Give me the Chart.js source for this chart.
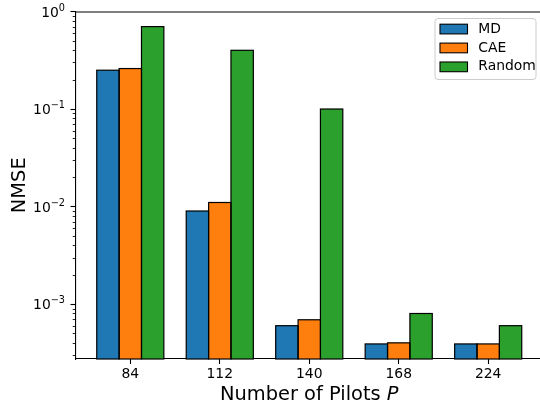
<!DOCTYPE html>
<html>
<head>
<meta charset="utf-8">
<script src="https://cdn.jsdelivr.net/npm/chart.js@4/dist/chart.umd.min.js"></script>
<style>
html,body{margin:0;padding:0;overflow:hidden;background:#fff;}
canvas{display:block;}
</style>
</head>
<body>
<canvas id="c" width="550" height="410"></canvas>
<script>
const pilots = ['84', '112', '140', '168', '224'];
const mdValues = [0.25, 0.009, 0.0006, 0.00039, 0.00039];
const caeValues = [0.26, 0.011, 0.00069, 0.0004, 0.00039];
const randomValues = [0.7, 0.4, 0.1, 0.0008, 0.0006];
const yTickValues = [0.001, 0.01, 0.1, 1];
const yTickBase = '10';
const yTickExponents = ['\u22123', '\u22122', '\u22121', '0'];
const seriesNames = ['MD', 'CAE', 'Random'];
const seriesColors = ['#1f77b4', '#ff7f0e', '#2ca02c'];

const FONT = "'DejaVu Sans', sans-serif";

function toPoints(arr) { return arr.map((v, i) => ({ x: i, y: v })); }

const edgePlugin = {
  id: 'edges',
  afterDatasetsDraw(chart) {
    const ctx = chart.ctx, a = chart.chartArea;
    ctx.save();
    ctx.beginPath();
    ctx.rect(a.left, a.top - 2, a.right - a.left, a.bottom - a.top + 4);
    ctx.clip();
    ctx.strokeStyle = '#000';
    ctx.lineWidth = 1.2;
    chart.data.datasets.forEach((ds, di) => {
      chart.getDatasetMeta(di).data.forEach(el => {
        const p = el.getProps(['x', 'y', 'base', 'width'], true);
        ctx.strokeRect(p.x - p.width / 2, p.y, p.width, p.base - p.y);
      });
    });
    ctx.restore();
  }
};

const framePlugin = {
  id: 'frame',
  afterDraw(chart) {
    const ctx = chart.ctx, a = chart.chartArea, ys = chart.scales.y;
    ctx.save();
    ctx.strokeStyle = '#000';
    ctx.lineWidth = 1.1;
    ctx.beginPath();
    ctx.moveTo(a.left, a.top + 0.5);
    ctx.lineTo(a.right, a.top + 0.5);
    ctx.lineTo(a.right, a.bottom);
    ctx.stroke();
    // minor ticks on log axis
    ctx.lineWidth = 0.85;
    for (let d = -5; d <= 0; d++) {
      for (let m = 2; m <= 9; m++) {
        const v = m * Math.pow(10, d);
        if (v < ys.min || v > ys.max) continue;
        const py = Math.round(ys.getPixelForValue(v)) + 0.5;
        ctx.beginPath();
        ctx.moveTo(a.left - 2.8, py);
        ctx.lineTo(a.left, py);
        ctx.stroke();
      }
    }
    // y tick labels 10^k with real superscripts
    ctx.fillStyle = '#000';
    ctx.textBaseline = 'alphabetic';
    ctx.textAlign = 'left';
    yTickValues.forEach((v, i) => {
      const ty = ys.getPixelForValue(v);
      ctx.font = "13.9px " + FONT;
      const wb = ctx.measureText(yTickBase).width;
      ctx.font = "9.7px " + FONT;
      const we = ctx.measureText(yTickExponents[i]).width;
      const right = a.left - 10.5;
      const sx = right - wb - we;
      ctx.font = "13.9px " + FONT;
      ctx.fillText(yTickBase, sx, ty + 5);
      ctx.font = "9.7px " + FONT;
      ctx.fillText(yTickExponents[i], sx + wb, ty - 0.7);
    });
    // x title with italic P
    const t1 = 'Number of Pilots ', t2 = 'P';
    ctx.font = "19.4px " + FONT;
    const w1 = ctx.measureText(t1).width;
    ctx.font = "italic 19.4px " + FONT;
    const w2 = ctx.measureText(t2).width;
    const cx = (a.left + a.right) / 2;
    let sx = cx - (w1 + w2) / 2;
    ctx.font = "19.4px " + FONT;
    ctx.fillText(t1, sx, 400);
    ctx.font = "italic 19.4px " + FONT;
    ctx.fillText(t2, sx + w1, 400);

    // legend (upper right)
    const fs = 13.9;
    const boxR = a.right - 7, boxT = a.top + 7;
    const boxW = 101, boxH = 61;
    const boxL = boxR - boxW;
    ctx.beginPath();
    const r = 3;
    ctx.moveTo(boxL + r, boxT);
    ctx.lineTo(boxR - r, boxT);
    ctx.arcTo(boxR, boxT, boxR, boxT + r, r);
    ctx.lineTo(boxR, boxT + boxH - r);
    ctx.arcTo(boxR, boxT + boxH, boxR - r, boxT + boxH, r);
    ctx.lineTo(boxL + r, boxT + boxH);
    ctx.arcTo(boxL, boxT + boxH, boxL, boxT + boxH - r, r);
    ctx.lineTo(boxL, boxT + r);
    ctx.arcTo(boxL, boxT, boxL + r, boxT, r);
    ctx.closePath();
    ctx.fillStyle = 'rgba(255,255,255,0.8)';
    ctx.fill();
    ctx.strokeStyle = '#cccccc';
    ctx.lineWidth = 1;
    ctx.stroke();
    ctx.font = fs + "px " + FONT;
    ctx.textBaseline = 'middle';
    chart.data.datasets.forEach((ds, i) => {
      const cy = boxT + 10.5 + i * 18.9;
      const px = boxL + 5;
      ctx.fillStyle = ds.backgroundColor;
      ctx.fillRect(px, cy - 4.8, 27.5, 9.7);
      ctx.strokeStyle = '#000';
      ctx.lineWidth = 1.1;
      ctx.strokeRect(px, cy - 4.8, 27.5, 9.7);
      ctx.fillStyle = '#000';
      ctx.fillText(ds.label, px + 27.8 + 10.5, cy);
    });
    ctx.restore();
  }
};

const datasets = [mdValues, caeValues, randomValues].map((vals, i) => ({
  label: seriesNames[i],
  data: toPoints(vals),
  backgroundColor: seriesColors[i],
  borderColor: '#000',
  borderWidth: 0,
  inflateAmount: 0,
  categoryPercentage: 0.75,
  barPercentage: 1.0
}));

new Chart(document.getElementById('c'), {
  type: 'bar',
  data: { datasets },
  options: {
    responsive: false,
    animation: false,
    devicePixelRatio: 1,
    layout: { padding: { top: 11.5, right: 7, left: 0, bottom: 0 } },
    plugins: { legend: { display: false }, tooltip: { enabled: false } },
    scales: {
      x: {
        type: 'linear',
        min: -0.6125,
        max: 4.6125,
        offset: false,
        afterBuildTicks(scale) { scale.ticks = pilots.map((p, i) => ({ value: i })); },
        afterFit(scale) { scale.height = 51; },
        ticks: {
          callback: (v) => pilots[v],
          font: { family: FONT, size: 13.9 },
          color: '#000',
          padding: 2,
          maxRotation: 0,
          autoSkip: false
        },
        grid: { offset: false, drawOnChartArea: false, drawTicks: true, tickLength: 5, color: '#000', tickWidth: 1.1 },
        border: { display: true, color: '#000', width: 1.1 }
      },
      y: {
        type: 'logarithmic',
        min: Math.pow(10, -3.5635),
        max: 1,
        afterBuildTicks(scale) { scale.ticks = yTickValues.map(v => ({ value: v })); },
        afterFit(scale) { scale.width = 75.5; },
        ticks: {
          display: false,
          autoSkip: false
        },
        grid: { offset: false, drawOnChartArea: false, drawTicks: true, tickLength: 5, color: '#000', tickWidth: 1.1 },
        border: { display: true, color: '#000', width: 1.1 },
        title: {
          display: true,
          text: 'NMSE',
          font: { family: FONT, size: 19.4 },
          color: '#000',
          padding: { top: 8, bottom: 0 }
        }
      }
    }
  },
  plugins: [edgePlugin, framePlugin]
});
</script>
</body>
</html>
